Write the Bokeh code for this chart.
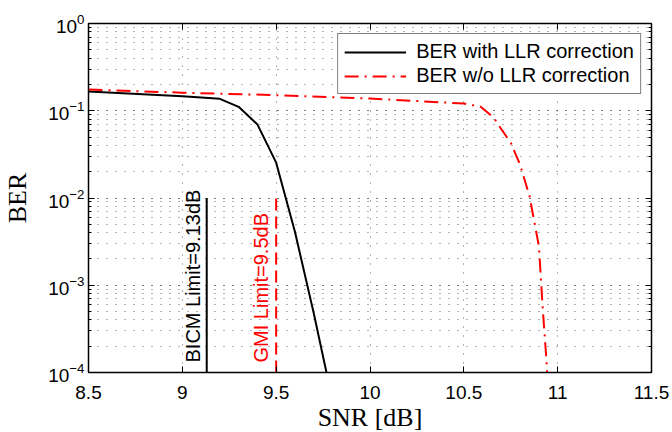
import math
from bokeh.plotting import figure
from bokeh.models import (Legend, LegendItem, LinearAxis, LogAxis, Label,
                          SingleIntervalTicker, LogTicker, CustomJSTickFormatter)
from bokeh.embed import file_html
from bokeh.resources import INLINE

# ---- data ----
snr_with = [8.5, 9.0, 9.2, 9.3, 9.4, 9.5, 9.6, 9.7, 9.8]
ber_with = [0.166, 0.147, 0.137, 0.111, 0.0697, 0.0254, 0.0041, 4.8e-4, 4.8e-5]

snr_wo = [8.5, 9.0, 9.5, 10.0, 10.5, 10.59, 10.66, 10.7, 10.75, 10.8, 10.85, 10.9, 10.92, 10.94, 10.96]
ber_wo = [0.175, 0.161, 0.151, 0.138, 0.121, 0.111, 0.083, 0.0614, 0.043, 0.024, 0.0105, 0.0028, 5.6e-4, 1.4e-4, 2e-5]

bicm_limit_x = [9.13, 9.13]
gmi_limit_x = [9.5, 9.5]
limit_y = [1e-4, 1e-2]

bicm_label = "BICM Limit=9.13dB"
gmi_label = "GMI Limit=9.5dB"

legend_labels = ["BER with LLR correction", "BER w/o LLR correction"]
x_label = "SNR [dB]"
y_label = "BER"

SANS = "Liberation Sans"
SERIF = "Liberation Serif"

p = figure(frame_width=563, frame_height=349, output_backend="svg", toolbar_location=None,
           y_axis_type="log", x_range=(8.5, 11.5), y_range=(1e-4, 1),
           min_border_left=80, min_border_right=21, min_border_top=16, min_border_bottom=59)
p.margin = (7, 0, 0, 0)
p.background_fill_color = "white"
p.border_fill_color = "white"
p.outline_line_color = "black"
p.outline_line_width = 1.5

xt = SingleIntervalTicker(interval=0.5, num_minor_ticks=0)
yt = LogTicker(desired_num_ticks=5, num_minor_ticks=10)
p.xaxis.ticker = xt
p.yaxis.ticker = yt
p.xaxis.formatter = CustomJSTickFormatter(code="return String(Math.round(tick*10)/10);")

for ax in (p.xaxis[0], p.yaxis[0]):
    ax.major_tick_in = 6
    ax.major_tick_out = 0
    ax.minor_tick_in = 3
    ax.minor_tick_out = 0
    ax.major_tick_line_color = "black"
    ax.minor_tick_line_color = "black"
    ax.axis_line_color = "black"
    ax.major_label_text_font = SANS
    ax.major_label_text_font_size = "19px"
    ax.major_label_text_color = "black"
    ax.axis_label_text_font = SERIF
    ax.axis_label_text_font_size = "26px"
    ax.axis_label_text_font_style = "normal"
    ax.axis_label_text_color = "black"

p.xaxis.axis_label = x_label
p.yaxis.axis_label = y_label
p.xaxis.major_label_standoff = 13
p.xaxis.axis_label_standoff = 1
p.yaxis.major_label_standoff = 4
p.yaxis.axis_label_standoff = 13

blank = CustomJSTickFormatter(code="return '';")
top = LinearAxis(ticker=xt, formatter=blank, major_tick_in=6, major_tick_out=0,
                 minor_tick_in=0, minor_tick_out=0, major_label_standoff=0,
                 major_label_text_font_size="1px", axis_line_color="black")
right = LogAxis(ticker=yt, formatter=blank, major_tick_in=6, major_tick_out=0,
                minor_tick_in=3, minor_tick_out=0, major_label_standoff=0,
                major_label_text_font_size="1px", axis_line_color="black")
p.add_layout(top, "above")
p.add_layout(right, "right")

for g in (p.xgrid[0], p.ygrid[0]):
    g.grid_line_color = "#666666"
    g.grid_line_dash = "1 8"
    g.grid_line_width = 1
p.ygrid[0].minor_grid_line_color = "#666666"
p.ygrid[0].minor_grid_line_dash = "1 8"
p.ygrid[0].minor_grid_line_width = 1

r1 = p.line(snr_with, ber_with, line_color="black", line_width=2)
r2 = p.line(snr_wo, ber_wo, line_color="#ff0000", line_width=2, line_dash="14 6 2 6")

p.line(bicm_limit_x, limit_y, line_color="black", line_width=2)
p.line(gmi_limit_x, limit_y, line_color="#ff0000", line_width=2, line_dash="12 6")

p.add_layout(Label(x=bicm_limit_x[0], y=limit_y[0], text=bicm_label, angle=90, angle_units="deg",
                   x_offset=-14, y_offset=10, text_align="left", text_baseline="alphabetic",
                   text_color="black", text_font=SANS, text_font_size="20px"))
p.add_layout(Label(x=gmi_limit_x[0], y=limit_y[0], text=gmi_label, angle=90, angle_units="deg",
                   x_offset=-15, y_offset=10, text_align="left", text_baseline="alphabetic",
                   text_color="#ff0000", text_font=SANS, text_font_size="20px"))

legend = Legend(items=[LegendItem(label=legend_labels[0], renderers=[r1]),
                       LegendItem(label=legend_labels[1], renderers=[r2])],
                location="top_right", glyph_width=62, glyph_height=18, label_height=18,
                label_standoff=10, spacing=1, padding=6, margin=10,
                label_text_font=SANS, label_text_font_size="20px", label_text_color="black",
                border_line_color="black", border_line_width=1, background_fill_alpha=1)
p.add_layout(legend, "center")

open("out.html", "w").write(file_html(p, INLINE))
